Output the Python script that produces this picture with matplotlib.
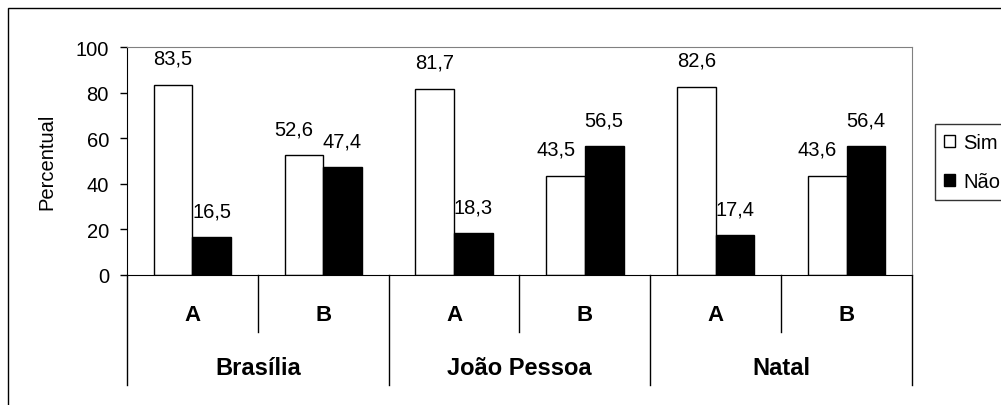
import matplotlib
matplotlib.use("Agg")
import matplotlib.pyplot as plt
from matplotlib.patches import Rectangle, Patch
from matplotlib.transforms import blended_transform_factory

plt.rcParams["font.family"] = ["Liberation Sans", "DejaVu Sans"]

# ------------------------------------------------------------
# DATA
# ------------------------------------------------------------
cities   = ["Brasília", "João Pessoa", "Natal"]
groups   = ["A", "B"]
sim      = [83.5, 52.6, 81.7, 43.5, 82.6, 43.6]
nao      = [16.5, 47.4, 18.3, 56.5, 17.4, 56.4]
series   = ["Sim", "Não"]
yticks   = [0, 20, 40, 60, 80, 100]

def fmt(v):
    return f"{v:.1f}".replace(".", ",")

FS = 14.5

# ------------------------------------------------------------
# FIGURE
# ------------------------------------------------------------
W, H = 1001, 406
fig = plt.figure(figsize=(W / 100, H / 100), dpi=100)
fig.patches.append(Rectangle((7.5 / W, -0.5), 2.0, 0.5 + 1 - 8.5 / H,
                             transform=fig.transFigure, fill=False,
                             edgecolor="black", linewidth=1.0))

ax = fig.add_axes([127 / W, 1 - 276 / H, (912 - 127) / W, (276 - 48) / H])

n = len(sim)
xs = list(range(n))
bw = 0.295
ax.bar([x - bw / 2 for x in xs], sim, bw, color="white",
       edgecolor="black", linewidth=1.0, label=series[0])
ax.bar([x + bw / 2 for x in xs], nao, bw, color="black",
       edgecolor="black", linewidth=1.0, label=series[1])

# value labels (Sim labels on group B nudged left like the original)
for i, x in enumerate(xs):
    dx = -7 if i % 2 == 1 else 0
    ax.annotate(fmt(sim[i]), (x - bw / 2, sim[i]), xytext=(dx, 19),
                textcoords="offset points", ha="center", va="center",
                fontsize=FS)
    ax.annotate(fmt(nao[i]), (x + bw / 2, nao[i]), xytext=(0, 19),
                textcoords="offset points", ha="center", va="center",
                fontsize=FS)

ax.set_xlim(-0.5, n - 0.5)
ax.set_ylim(0, 100)
ax.set_yticks(yticks)
ax.set_yticklabels([str(t) for t in yticks], fontsize=FS)
ax.tick_params(axis="y", direction="out", length=5, width=1, pad=8)
ax.set_xticks([])
ax.set_ylabel("Percentual", fontsize=FS, labelpad=14)

for s in ["top", "right"]:
    ax.spines[s].set_color("#808080")
for s in ["left", "bottom"]:
    ax.spines[s].set_color("black")

# ------------------------------------------------------------
# MULTI-LEVEL CATEGORY AXIS
# ------------------------------------------------------------
tr = blended_transform_factory(ax.transData, ax.transAxes)
lvl1, lvl2 = -0.25, -0.482
for i, x in enumerate(xs):
    ax.text(x, -0.175, groups[i % 2], transform=tr, ha="center",
            va="center", fontsize=16, fontweight="bold")
    # divider between A and B
    if i % 2 == 1:
        ax.plot([x - 0.5, x - 0.5], [0, lvl1], transform=tr, color="black",
                linewidth=1.0, clip_on=False)
for j, city in enumerate(cities):
    ax.text(2 * j + 0.5, -0.405, city, transform=tr, ha="center",
            va="center", fontsize=17, fontweight="bold")
for j in range(len(cities) + 1):
    ax.plot([2 * j - 0.5, 2 * j - 0.5], [0, lvl2], transform=tr,
            color="black", linewidth=1.0, clip_on=False)

# ------------------------------------------------------------
# LEGEND
# ------------------------------------------------------------
handles = [Patch(facecolor="white", edgecolor="black", label=series[0]),
           Patch(facecolor="black", edgecolor="black", label=series[1])]
leg = fig.legend(handles=handles, loc="upper left",
                 bbox_to_anchor=(935 / W, 1 - 125 / H), fontsize=FS,
                 frameon=True, fancybox=False, handlelength=0.55,
                 handleheight=0.55, handletextpad=0.4, borderpad=0.45,
                 labelspacing=1.0, borderaxespad=0)
leg.get_frame().set_edgecolor("black")
leg.get_frame().set_linewidth(1.0)

fig.savefig("out.png", dpi=100)
